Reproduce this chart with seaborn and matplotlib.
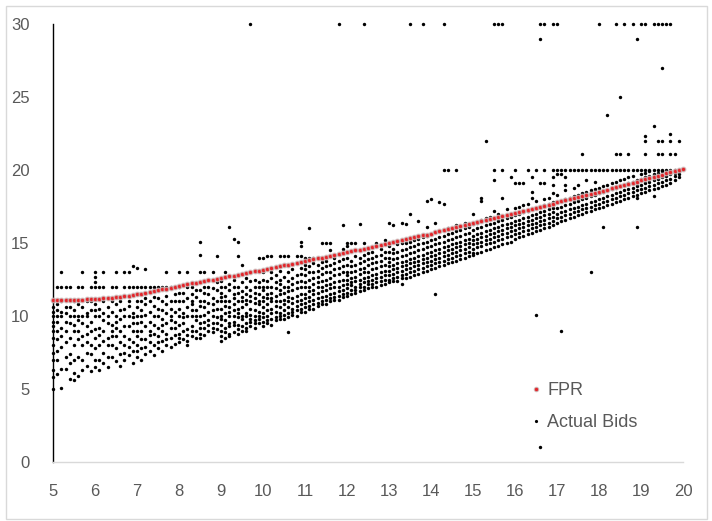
import numpy as np
import pandas as pd
import matplotlib
matplotlib.use("Agg")
import matplotlib.pyplot as plt
from matplotlib.patches import Rectangle
from matplotlib.lines import Line2D
import seaborn as sns

# ---------------- data ----------------
# FPR curve: one point every 0.1 on x, from 5.0 to 20.0
fpr_x = [round(5.0 + 0.1 * i, 1) for i in range(151)]
fpr_y = [11.10, 11.10, 11.10, 11.11, 11.11, 11.12, 11.12, 11.13, 11.14, 11.15,
         11.16, 11.18, 11.20, 11.23, 11.26, 11.29, 11.32, 11.36, 11.40, 11.44,
         11.48, 11.53, 11.58, 11.64, 11.70, 11.76, 11.82, 11.88, 11.94, 12.00,
         12.06, 12.12, 12.17, 12.23, 12.28, 12.34, 12.39, 12.45, 12.50, 12.55,
         12.61, 12.66, 12.72, 12.77, 12.83, 12.88, 12.94, 12.99, 13.05, 13.10,
         13.16, 13.22, 13.28, 13.34, 13.40, 13.46, 13.52, 13.58, 13.64, 13.70,
         13.76, 13.82, 13.88, 13.94, 14.00, 14.06, 14.12, 14.18, 14.24, 14.30,
         14.36, 14.42, 14.49, 14.55, 14.62, 14.68, 14.74, 14.81, 14.87, 14.94,
         15.00, 15.06, 15.13, 15.19, 15.26, 15.32, 15.39, 15.45, 15.52, 15.58,
         15.65, 15.72, 15.79, 15.86, 15.93, 16.00, 16.07, 16.14, 16.21, 16.28,
         16.35, 16.42, 16.49, 16.56, 16.63, 16.70, 16.77, 16.84, 16.91, 16.98,
         17.05, 17.12, 17.19, 17.27, 17.34, 17.41, 17.48, 17.56, 17.63, 17.70,
         17.78, 17.85, 17.92, 18.00, 18.07, 18.14, 18.21, 18.29, 18.36, 18.43,
         18.51, 18.59, 18.66, 18.74, 18.82, 18.90, 18.97, 19.05, 19.13, 19.21,
         19.29, 19.37, 19.45, 19.53, 19.61, 19.69, 19.77, 19.85, 19.93, 20.01,
         20.09]

# Actual bids: each inner list holds the y values of one x column
# (x = start, start + 0.1, ..., start + 0.9)
bids_05 = [[5.0, 5.8, 6.3, 7.0, 7.5, 8.0, 8.5, 9.0, 9.3, 9.6, 10.0, 10.3, 10.6, 11.0],
           [6.0, 7.0, 7.6, 8.4, 9.0, 9.6, 10.0, 10.4, 10.8, 12.0],
           [5.1, 6.4, 7.9, 8.6, 9.2, 10.0, 10.3, 11.0, 12.0, 13.0],
           [6.4, 7.2, 8.2, 9.0, 9.6, 10.2, 10.6, 12.0],
           [5.7, 6.8, 7.4, 8.5, 9.5, 10.0, 10.6, 12.0],
           [5.6, 6.1, 7.0, 8.0, 9.0, 9.4, 10.0, 10.4, 11.0],
           [5.9, 7.2, 8.4, 9.0, 9.7, 10.0, 10.8, 12.0],
           [6.3, 7.0, 8.0, 8.6, 9.5, 10.0, 10.6, 12.0, 13.0],
           [6.6, 7.5, 8.2, 8.8, 9.3, 10.0, 10.2, 11.0],
           [6.2, 7.4, 8.0, 9.0, 9.6, 10.4, 11.0, 12.0]]
bids_06 = [[6.5, 7.0, 7.8, 8.5, 9.1, 10.0, 10.4, 10.8, 12.0, 12.3, 12.7, 13.0],
           [6.3, 7.0, 8.0, 8.7, 9.2, 10.0, 10.5, 12.0],
           [6.8, 7.5, 8.3, 9.0, 9.7, 10.2, 11.0, 12.0, 13.0],
           [6.5, 7.2, 8.0, 8.5, 9.5, 10.0, 10.6],
           [7.2, 8.0, 8.6, 9.0, 9.4, 10.3, 11.0, 12.0],
           [6.9, 7.8, 8.6, 9.2, 9.6, 10.0, 10.8, 12.0, 13.0],
           [6.6, 7.4, 8.2, 9.0, 9.8, 10.4, 11.0],
           [7.0, 7.5, 8.0, 8.6, 9.3, 10.0, 10.5, 12.0, 13.0],
           [7.3, 7.9, 8.4, 9.3, 10.0, 10.7, 11.0, 12.0, 13.0],
           [6.8, 7.6, 8.2, 9.0, 9.5, 9.9, 10.2, 12.0, 13.4]]
bids_07 = [[7.2, 7.6, 8.0, 8.6, 9.0, 9.5, 10.0, 10.6, 11.0, 12.0, 13.3],
           [7.0, 7.8, 8.4, 9.0, 9.6, 10.0, 10.4, 11.0, 12.0],
           [7.4, 7.9, 8.4, 9.3, 10.1, 10.8, 11.2, 12.0, 13.2],
           [7.6, 8.2, 8.7, 9.0, 9.6, 10.3, 11.0, 12.0],
           [7.3, 8.0, 8.8, 9.4, 10.0, 10.7, 11.3, 12.0],
           [7.8, 8.2, 8.6, 9.2, 10.0, 10.5, 11.2, 12.0],
           [7.6, 8.3, 9.0, 9.4, 9.8, 10.4, 11.0, 12.0],
           [8.0, 8.4, 8.8, 9.5, 10.2, 10.8, 11.4, 12.0, 13.0],
           [7.9, 8.5, 9.2, 9.7, 10.0, 10.5, 11.0, 12.0],
           [8.1, 8.7, 9.2, 9.6, 10.3, 11.0, 11.5, 12.0]]
bids_08 = [[8.2, 8.5, 8.8, 9.4, 10.0, 10.5, 11.0, 11.6, 12.0, 13.0],
           [8.4, 9.0, 9.5, 9.9, 10.2, 11.0, 11.6],
           [8.0, 8.3, 8.7, 9.1, 10.0, 10.6, 11.2, 12.0, 13.0],
           [8.6, 9.0, 9.3, 10.0, 10.4, 10.8, 11.0, 11.5, 12.0],
           [8.5, 9.0, 9.7, 10.0, 10.4, 11.3, 11.8],
           [8.5, 8.8, 9.2, 9.5, 10.0, 10.7, 11.0, 11.8, 13.0, 14.2, 15.1],
           [8.7, 9.2, 9.6, 10.1, 10.6, 11.0, 11.6, 12.0, 13.0],
           [9.0, 9.4, 9.7, 10.3, 10.9, 11.5, 12.0],
           [8.9, 9.2, 9.5, 10.0, 10.4, 10.8, 11.2, 11.9, 13.0],
           [9.1, 9.5, 9.9, 10.5, 11.0, 11.8, 12.3, 14.1]]
bids_09 = [[8.3, 8.6, 9.0, 9.4, 9.8, 10.0, 10.5, 11.0, 11.3, 11.6, 12.0, 12.4],
           [8.5, 8.9, 9.2, 9.7, 10.2, 10.7, 11.0, 11.4, 12.0, 13.0],
           [8.6, 8.8, 9.3, 9.5, 10.0, 10.3, 10.6, 11.0, 11.8, 12.2, 16.1],
           [8.9, 9.4, 9.6, 10.0, 10.4, 10.8, 11.2, 11.5, 12.0, 12.5, 15.3],
           [8.8, 9.1, 9.4, 9.9, 10.2, 10.5, 11.0, 11.6, 12.0, 14.1, 15.1],
           [9.0, 9.3, 9.8, 10.0, 10.6, 11.0, 11.3, 11.7, 12.3, 13.5],
           [9.0, 9.2, 9.5, 10.0, 10.2, 10.8, 11.1, 11.5, 12.0, 12.6],
           [9.3, 9.6, 9.8, 10.1, 10.5, 11.0, 11.4, 11.8, 12.4, 30.0],
           [9.2, 9.5, 9.7, 10.0, 10.4, 10.9, 11.2, 11.6, 12.0, 12.5],
           [9.5, 9.8, 10.0, 10.3, 10.8, 11.0, 11.5, 12.0, 12.3, 14.0]]
bids_10 = [[9.3, 9.6, 9.9, 10.2, 10.6, 11.0, 11.3, 11.8, 12.0, 12.5, 13.0, 14.0],
           [9.5, 9.7, 10.0, 10.4, 10.8, 11.2, 11.5, 12.0, 12.4, 14.1],
           [9.4, 9.8, 10.2, 10.5, 11.0, 11.2, 11.6, 12.0, 12.6, 13.0, 14.1],
           [9.7, 9.9, 10.3, 10.7, 11.0, 11.4, 11.9, 12.3, 12.8],
           [9.8, 10.0, 10.2, 10.6, 11.0, 11.5, 11.8, 12.2, 12.5, 13.1, 14.1],
           [9.8, 10.1, 10.4, 10.8, 11.1, 11.6, 12.0, 12.7, 14.1],
           [8.9, 9.9, 10.2, 10.6, 11.0, 11.3, 11.7, 12.0, 12.4, 13.0, 14.1],
           [10.1, 10.3, 10.5, 10.9, 11.2, 11.8, 12.2, 12.6, 13.2],
           [10.0, 10.4, 10.7, 11.0, 11.4, 11.9, 12.3, 12.8, 14.1],
           [10.3, 10.5, 10.8, 11.1, 11.5, 12.0, 12.4, 12.9, 13.3, 14.1, 14.8, 15.1]]
bids_11 = [[10.3, 10.6, 10.9, 11.2, 11.5, 12.0, 12.3, 12.8, 13.2, 13.5, 14.0],
           [10.5, 10.7, 11.0, 11.3, 11.7, 12.0, 12.5, 13.0, 13.4, 14.0, 16.0],
           [10.5, 10.8, 11.1, 11.5, 11.8, 12.2, 12.6, 13.0, 13.6, 14.0],
           [10.7, 10.9, 11.2, 11.6, 12.0, 12.3, 12.7, 13.1, 13.5],
           [10.8, 11.0, 11.3, 11.7, 12.0, 12.4, 12.9, 13.3, 13.7, 15.0],
           [10.8, 11.1, 11.4, 11.8, 12.1, 12.5, 13.0, 13.4, 13.8, 15.0],
           [11.0, 11.2, 11.5, 11.9, 12.2, 12.6, 13.0, 13.5, 14.5, 15.0],
           [11.1, 11.3, 11.6, 12.0, 12.3, 12.8, 13.2, 13.6, 14.0],
           [11.1, 11.4, 11.7, 12.0, 12.4, 12.9, 13.3, 13.8, 30.0],
           [11.3, 11.5, 11.8, 12.1, 12.5, 13.0, 13.4, 13.9, 14.6, 16.2]]
bids_12 = [[11.4, 11.6, 11.9, 12.2, 12.5, 12.8, 13.0, 13.5, 14.0, 14.8, 15.0],
           [11.5, 11.8, 12.1, 12.3, 12.6, 13.0, 13.4, 13.8, 15.0],
           [11.6, 11.8, 12.0, 12.4, 12.7, 13.1, 13.5, 14.1, 15.0],
           [11.7, 12.0, 12.2, 12.5, 12.9, 13.2, 13.6, 14.0, 16.3],
           [11.8, 12.0, 12.3, 12.6, 13.0, 13.3, 13.8, 14.2, 15.0, 30.0],
           [11.9, 12.2, 12.4, 12.7, 13.0, 13.5, 13.9, 14.3],
           [12.0, 12.2, 12.5, 12.8, 13.2, 13.6, 14.0, 14.4],
           [12.0, 12.3, 12.6, 12.9, 13.3, 13.7, 14.1, 15.0],
           [12.1, 12.4, 12.7, 13.0, 13.4, 13.8, 14.2, 14.6],
           [12.2, 12.5, 12.8, 13.1, 13.5, 14.0, 14.4, 15.2]]
bids_13 = [[12.3, 12.5, 12.8, 13.1, 13.4, 13.7, 14.0, 14.4, 14.8, 16.4],
           [12.4, 12.6, 12.9, 13.2, 13.5, 13.9, 14.3, 14.6, 16.2],
           [12.4, 12.7, 13.0, 13.3, 13.6, 14.0, 14.4, 14.9],
           [12.2, 12.6, 12.8, 13.1, 13.4, 13.7, 14.1, 14.5, 15.0, 16.4],
           [12.6, 12.9, 13.2, 13.5, 13.8, 14.2, 14.6, 15.0, 16.3],
           [12.7, 13.0, 13.3, 13.6, 13.9, 14.3, 14.7, 15.1, 17.0, 30.0],
           [12.8, 13.1, 13.4, 13.7, 14.0, 14.4, 14.8, 15.2],
           [12.9, 13.2, 13.5, 13.8, 14.1, 14.5, 14.9, 15.3, 16.5],
           [13.0, 13.3, 13.6, 13.9, 14.2, 14.6, 15.0, 15.4, 30.0],
           [13.1, 13.4, 13.7, 14.0, 14.3, 14.7, 15.1, 15.5, 16.1, 17.9]]
bids_14 = [[13.2, 13.5, 13.8, 14.1, 14.4, 14.8, 15.2, 15.6, 18.0],
           [11.5, 13.3, 13.6, 13.9, 14.2, 14.5, 14.9, 15.3, 16.4],
           [13.4, 13.7, 14.0, 14.3, 14.6, 15.0, 15.4, 15.8, 17.8],
           [13.5, 13.8, 14.1, 14.4, 14.7, 15.1, 15.5, 17.7, 20.0, 30.0],
           [13.6, 13.9, 14.2, 14.5, 14.8, 15.2, 15.6, 16.0, 20.0],
           [13.7, 14.0, 14.3, 14.6, 14.9, 15.3, 15.7],
           [13.8, 14.1, 14.4, 14.7, 15.0, 15.4, 15.8, 16.2, 20.0],
           [13.9, 14.2, 14.5, 14.8, 15.1, 15.5, 15.9],
           [14.0, 14.3, 14.6, 14.9, 15.2, 15.6, 16.0, 16.4],
           [14.1, 14.4, 14.7, 15.0, 15.3, 15.7, 16.1]]
bids_15 = [[14.2, 14.3, 14.6, 14.9, 15.2, 15.5, 15.9, 16.3, 17.0],
           [14.3, 14.7, 15.0, 15.3, 15.6, 16.0, 16.4],
           [14.4, 14.8, 15.1, 15.4, 15.7, 16.1, 16.6, 17.9, 18.1],
           [14.5, 14.9, 15.2, 15.5, 15.8, 16.2, 16.7, 22.0],
           [14.6, 15.0, 15.3, 15.6, 15.9, 16.3, 16.8],
           [14.7, 15.1, 15.4, 15.7, 16.0, 16.4, 17.2, 19.3, 20.0, 30.0],
           [14.8, 15.2, 15.5, 15.8, 16.1, 16.5, 17.0, 30.0],
           [14.9, 15.3, 15.6, 15.9, 16.2, 16.6, 18.1, 20.0, 30.0],
           [15.0, 15.4, 15.7, 16.0, 16.3, 16.7, 17.3],
           [15.1, 15.5, 15.8, 16.1, 16.4, 16.8, 19.5]]
bids_16 = [[15.3, 15.6, 15.9, 16.2, 16.5, 16.9, 17.4, 19.1, 20.0],
           [15.4, 15.7, 16.0, 16.3, 16.6, 17.0, 17.5, 19.1],
           [15.5, 15.8, 16.1, 16.4, 16.7, 17.1, 17.6, 19.1],
           [15.6, 15.9, 16.2, 16.5, 16.8, 17.2, 17.7, 20.0],
           [15.7, 16.0, 16.3, 16.6, 16.9, 17.3, 18.1, 18.5, 19.5],
           [10.1, 15.8, 16.1, 16.4, 16.7, 17.0, 17.4, 17.9, 20.0],
           [1.0, 15.9, 16.2, 16.5, 16.8, 17.1, 17.5, 19.1, 29.0, 30.0],
           [16.0, 16.3, 16.6, 16.9, 17.2, 17.6, 18.0, 19.1, 20.0, 30.0],
           [16.1, 16.4, 16.7, 17.0, 17.3, 17.7, 18.1],
           [16.2, 16.5, 16.8, 17.1, 17.4, 17.8, 18.4, 19.0, 19.5, 20.0, 30.0]]
bids_17 = [[16.4, 16.7, 17.0, 17.4, 17.8, 18.3, 19.7, 20.0, 30.0],
           [9.0, 16.5, 16.8, 17.1, 17.5, 17.9, 19.7, 20.0],
           [16.6, 16.9, 17.2, 17.6, 18.0, 18.6, 19.0, 19.5, 20.0],
           [16.7, 17.0, 17.3, 17.7, 18.1, 20.0],
           [16.8, 17.1, 17.4, 17.8, 18.2, 18.8, 20.0],
           [16.9, 17.2, 17.5, 17.9, 18.3, 19.0, 20.0],
           [17.0, 17.3, 17.6, 18.0, 18.4, 20.0, 21.1],
           [17.1, 17.4, 17.7, 18.1, 18.5, 19.3, 20.0],
           [13.0, 17.2, 17.5, 17.8, 18.2, 18.6, 20.0],
           [17.3, 17.6, 17.9, 18.3, 18.7, 19.2, 20.0]]
bids_18 = [[17.4, 17.7, 18.0, 18.4, 18.8, 20.0, 30.0],
           [16.1, 17.5, 17.8, 18.1, 18.5, 18.9, 20.0],
           [17.6, 17.9, 18.2, 18.6, 19.0, 20.0, 23.8],
           [17.7, 18.0, 18.3, 18.7, 19.1, 20.0],
           [17.8, 18.1, 18.4, 18.8, 19.2, 20.0, 21.1, 30.0],
           [17.9, 18.2, 18.5, 18.9, 19.3, 20.0, 21.1, 25.0],
           [18.0, 18.3, 18.6, 19.0, 19.4, 20.0, 30.0],
           [18.1, 18.4, 18.7, 19.1, 19.5, 20.0, 21.1],
           [18.2, 18.5, 18.8, 19.2, 19.6, 20.0, 30.0],
           [16.1, 18.1, 18.3, 18.6, 18.9, 19.3, 20.0, 29.0]]
bids_19 = [[18.4, 18.7, 19.0, 19.4, 19.7, 20.0, 30.0],
           [18.5, 18.8, 19.1, 19.5, 19.8, 20.0, 21.1, 22.0, 22.3, 30.0],
           [18.6, 18.9, 19.2, 19.6, 19.9, 20.0],
           [18.2, 18.7, 19.0, 19.3, 19.7, 20.0, 23.0, 30.0],
           [18.8, 19.1, 19.4, 19.8, 20.0, 21.1, 22.0, 30.0],
           [18.9, 19.2, 19.5, 19.9, 20.0, 21.1, 22.0, 27.0, 30.0],
           [19.0, 19.3, 19.6, 20.0, 30.0],
           [19.1, 19.4, 19.7, 20.0, 21.1, 22.0, 22.5, 30.0],
           [19.3, 19.6, 19.8, 20.0, 21.1],
           [19.5, 19.7, 19.9, 20.0, 22.0]]

bid_groups = [(5, bids_05), (6, bids_06), (7, bids_07), (8, bids_08), (9, bids_09),
              (10, bids_10), (11, bids_11), (12, bids_12), (13, bids_13), (14, bids_14),
              (15, bids_15), (16, bids_16), (17, bids_17), (18, bids_18), (19, bids_19)]

x_ticks = [5, 6, 7, 8, 9, 10, 11, 12, 13, 14, 15, 16, 17, 18, 19, 20]
y_ticks = [0, 5, 10, 15, 20, 25, 30]
legend_labels = ["FPR", "Actual Bids"]

# ---------------- tables ----------------
rows = []
for start, cols in bid_groups:
    for j, ys in enumerate(cols):
        xv = round(start + 0.1 * j, 1)
        for yv in ys:
            rows.append((xv, yv))
bids_df = pd.DataFrame(rows, columns=["x", "y"])
fpr_df = pd.DataFrame({"x": fpr_x, "y": fpr_y})

# ---------------- plot ----------------
sns.set_theme(style="white")
plt.rcParams["font.family"] = ["Liberation Sans", "DejaVu Sans"]

W, H = 712, 521
fig = plt.figure(figsize=(W / 100, H / 100), dpi=100)
ax = fig.add_axes([53 / W, 1 - 462 / H, 630 / W, 438 / H])

GRAY_TXT = "#595959"
RED = "#e2262b"
HALO = (0.80, 0.74, 0.74, 0.8)

sns.scatterplot(data=bids_df, x="x", y="y", ax=ax, s=6, color="black",
                linewidth=0, zorder=2, legend=False, clip_on=False)
sns.scatterplot(data=fpr_df, x="x", y="y", ax=ax, s=11, color=RED,
                edgecolor=HALO, linewidth=0.9, zorder=3,
                legend=False, clip_on=False)

ax.set_xlim(5, 20)
ax.set_ylim(0, 30)
ax.set_xticks(x_ticks)
ax.set_yticks(y_ticks)
ax.set_xticklabels([str(t) for t in x_ticks])
ax.set_yticklabels([str(t) for t in y_ticks])
ax.set_xlabel("")
ax.set_ylabel("")
ax.tick_params(axis="both", length=0, labelsize=12, labelcolor=GRAY_TXT)
ax.tick_params(axis="x", pad=16)
ax.tick_params(axis="y", pad=17)
ax.grid(False)
for side in ["top", "right"]:
    ax.spines[side].set_visible(False)
ax.spines["left"].set_color("black")
ax.spines["left"].set_linewidth(1.0)
ax.spines["bottom"].set_color("#d9d9d9")
ax.spines["bottom"].set_linewidth(1.0)

handles = [
    Line2D([], [], linestyle="none", marker="o", markersize=3.2,
           markerfacecolor=RED, markeredgecolor=HALO, markeredgewidth=0.8),
    Line2D([], [], linestyle="none", marker="o", markersize=2.3,
           markerfacecolor="black", markeredgewidth=0),
]
leg = ax.legend(handles, legend_labels, loc="upper left",
                bbox_to_anchor=((531 - 53) / 630, (462 - 382) / 438),
                frameon=False, borderpad=0, borderaxespad=0,
                handlelength=0.5, handletextpad=0.4, labelspacing=0.85,
                fontsize=13)
for t in leg.get_texts():
    t.set_color(GRAY_TXT)

fig.add_artist(Rectangle((6 / W, 1 - 519 / H), (707 - 6) / W, (519 - 6) / H,
                         transform=fig.transFigure, fill=False,
                         edgecolor="#d9d9d9", linewidth=1.0))

fig.savefig("out.png", dpi=100, facecolor="white")
